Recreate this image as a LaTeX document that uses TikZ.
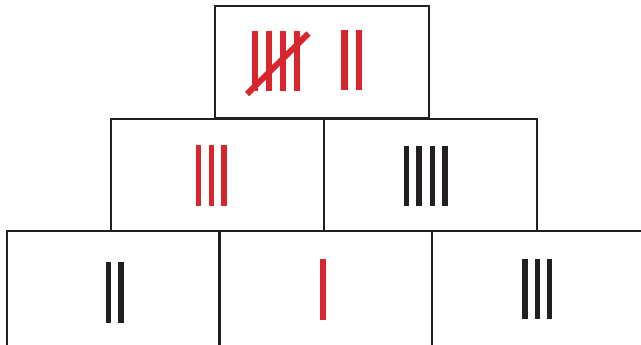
\documentclass[tikz,border=0pt]{standalone}
\usepackage{xcolor}
\usepackage{tikz}
\usetikzlibrary{positioning}

\definecolor{tallyred}{HTML}{D7262E}
\definecolor{tallyblk}{HTML}{231F20}

\begin{document}
\begin{tikzpicture}[
  x=0.5pt, y=-0.5pt,
  box/.style={draw=tallyblk, line width=1pt, minimum width=106.5pt, minimum height=56pt, inner sep=0pt, outer sep=0pt},
  lowbox/.style={box, minimum height=60pt},
  redbar/.style={draw=tallyred, line width=2.6pt},
  blkbar/.style={draw=tallyblk, line width=2.7pt},
]
\clip (0,0) rectangle (641,344);
\fill[white] (0,0) rectangle (641,344);

% pyramid of boxes
\node[box, minimum width=107pt] (top) at (322,62.2) {};
\node[box] (midl) at (217,174.8) {};
\node[box] (midr) at (430,174.8) {};
\node[lowbox] (botl) at (113,291) {};
\node[lowbox] (botm) at (325.5,291) {};
\node[lowbox] (botr) at (538.5,291) {};

% top: five and two
\foreach \x in {255,269,283,297}
  \draw[redbar, line width=3.2pt] (\x,31) -- (\x,90.5);
\draw[redbar, line width=3pt] (247,94) -- (308.5,33.5);
\foreach \x in {344.5,359}
  \draw[redbar, line width=3.2pt] (\x,30) -- (\x,90);

% middle row
\foreach \x in {198.2,211.2,224}
  \draw[redbar] (\x,145) -- (\x,205.7);
\foreach \x in {406.2,418.8,432.2,445}
  \draw[blkbar] (\x,145.7) -- (\x,205.7);

% bottom row
\foreach \x in {108.3,121}
  \draw[blkbar] (\x,262.3) -- (\x,323);
\draw[redbar, line width=2.8pt] (322.8,259.3) -- (322.8,320);
\foreach \x in {524.8,537.2,549.7}
  \draw[blkbar] (\x,259) -- (\x,319.3);
\end{tikzpicture}
\end{document}
